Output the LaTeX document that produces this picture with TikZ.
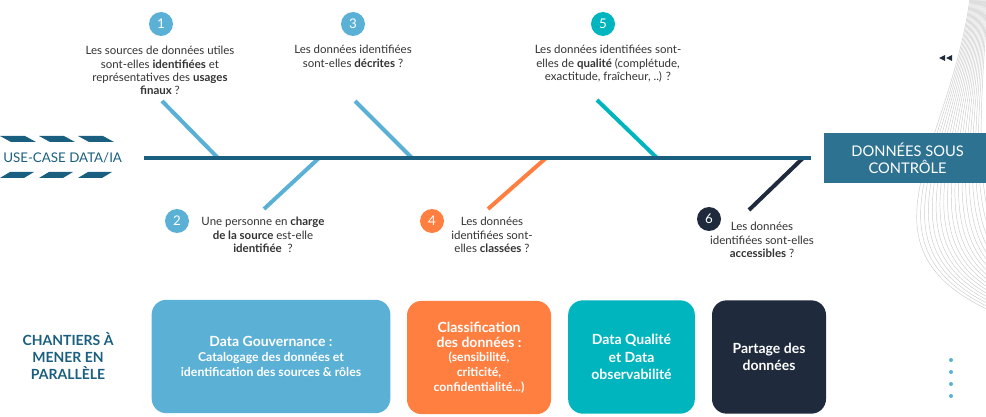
\documentclass[tikz,border=0pt]{standalone}
\usepackage{fontspec}
\setmainfont{Lato}
\usetikzlibrary{positioning,calc}
\definecolor{spineblue}{RGB}{26,95,128}
\definecolor{lightblue}{RGB}{91,176,214}
\definecolor{tealq}{RGB}{0,181,189}
\definecolor{orangeq}{RGB}{255,127,65}
\definecolor{navy}{RGB}{31,42,60}
\definecolor{boxblue}{RGB}{45,114,145}
\definecolor{txtgrey}{RGB}{51,51,51}
\begin{document}
\begin{tikzpicture}[x=0.75pt, y=-0.75pt, every node/.style={font=\fontsize{8.6}{10}\selectfont, text=txtgrey, align=center, inner sep=0pt},
	bone/.style={line width=3pt, draw=#1},
	num/.style={circle, fill=#1, minimum size=18pt, text=white, font=\fontsize{10}{10}\selectfont},
	chantier/.style={fill=#1, rounded corners=11pt, minimum height=85pt, text=white, font=\bfseries\fontsize{9.2}{11}\selectfont}]
			\useasboundingbox (0,0) rectangle (986,417);
			\clip (0,0) rectangle (986,417);
			% lignes du fond
			\foreach \k in {0,...,18}
				\draw[gray!40, line width=0.35pt] (970+1*\k,-2) .. controls (950+1.5*\k,150) and (845+7*\k,250) .. (1000+2*\k,315-2*\k);
			% chevrons
			\foreach \x in {0,39,78} {
				\fill[spineblue] (\x,136) -- ++(25,0) -- ++(11,6) -- ++(-25,0) -- cycle;
				\fill[spineblue] (\x,178) -- ++(24,0) -- ++(10,-6) -- ++(-24,0) -- cycle;
			}
			\node[anchor=west, text=spineblue, font=\fontsize{10}{12}\selectfont] (usecase) at (3,158) {USE-CASE DATA/IA};
			% aretes
			\coordinate (s1) at (218,158); \coordinate (e1) at (162,101);
			\coordinate (s2) at (319,158); \coordinate (e2) at (264,209);
			\coordinate (s3) at (412,158); \coordinate (e3) at (355,101);
			\coordinate (s4) at (546,158); \coordinate (e4) at (488,209);
			\coordinate (s5) at (657,158); \coordinate (e5) at (597,100);
			\coordinate (s6) at (803,158); \coordinate (e6) at (749,210);
			\foreach \s/\e/\c in {s1/e1/lightblue, s2/e2/lightblue, s3/e3/lightblue, s4/e4/orangeq, s5/e5/tealq, s6/e6/navy}
				\draw[bone=\c] (\s) -- (\e);
			\coordinate (tail) at (144,158);
			\coordinate (head) at (811,158);
			\draw[spineblue, line width=3.5pt] (tail) -- (head);
			\node[anchor=west, fill=boxblue, text=white, font=\fontsize{11}{13}\selectfont, minimum width=125pt, minimum height=37.5pt] (ctrl) at (824,158) {DONNÉES SOUS\\CONTRÔLE};
			% questions
			\foreach \n/\x/\y/\c in {1/161/24/lightblue, 2/177/221/lightblue, 3/353/24/lightblue, 4/432/221/orangeq, 5/603/24/tealq, 6/709/219/navy}
				\node[num=\c] (n\n) at (\x,\y) {\n};
			\node[anchor=north] (q1) at (160,46) {Les sources de données utiles\\sont-elles \textbf{identifiées} et\\représentatives des \textbf{usages}\\\textbf{finaux} ?};
			\node[anchor=north] (q3) at (353,45) {Les données identifiées\\sont-elles \textbf{décrites} ?};
			\node[anchor=north] (q5) at (608,45) {Les données identifiées sont-\\elles de \textbf{qualité} (complétude,\\exactitude, fraîcheur, ..) ?};
			\node[anchor=north] (q2) at (263,217) {Une personne en \textbf{charge}\\\textbf{de la source} est-elle\\\textbf{identifiée} ~?};
			\node[anchor=north] (q4) at (492,217) {Les données\\identifiées sont-\\elles \textbf{classées} ?};
			\node[anchor=north] (q6) at (762,222) {Les données\\identifiées sont-elles\\\textbf{accessibles} ?};
			% chantiers
			\node[text=spineblue, font=\bfseries\fontsize{10.5}{12.5}\selectfont] (chantiers) at (68,356) {CHANTIERS À\\MENER EN\\PARALLÈLE};
			\node[chantier=lightblue, minimum width=179pt] (gouv) at (271,356.5) {{\fontsize{10.5}{13}\selectfont Data Gouvernance :}\\Catalogage des données et\\identification des sources \& rôles};
			\node[chantier=orangeq, minimum width=108pt] (classif) at (479,357.5) {{\fontsize{10.5}{13}\selectfont Classification}\\{\fontsize{10.5}{13}\selectfont des données :}\\(sensibilité,\\criticité,\\confidentialité...)};
			\node[chantier=tealq, minimum width=95pt, font=\bfseries\fontsize{10.5}{13}\selectfont] (qualite) at (631.5,357) {Data Qualité\\et Data\\observabilité};
			\node[chantier=navy, minimum width=85.5pt, font=\bfseries\fontsize{10.5}{13}\selectfont] (partage) at (769,357) {Partage des\\données};
			% details
			\fill[navy] (939,58) -- (945,55) -- (945,61) -- cycle;
			\fill[navy] (946,58) -- (952,55) -- (952,61) -- cycle;
			\foreach \y in {360,372,384,396}
				\fill[lightblue] (951,\y) circle (2);
			\fill[navy] (925,425) circle (8);
		\end{tikzpicture}
\end{document}
